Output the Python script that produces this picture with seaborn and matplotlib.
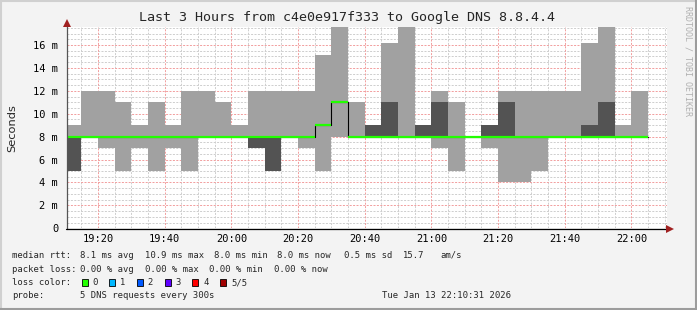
import numpy as np
import pandas as pd
import matplotlib
matplotlib.use("Agg")
import matplotlib.pyplot as plt
from matplotlib.lines import Line2D
from matplotlib.patches import Rectangle
import seaborn as sns

# ---------------- data (ms) ----------------
bin_start = pd.date_range("2026-01-13 19:10", "2026-01-13 22:00", freq="5min")
ping_min = [5, 8, 7, 5, 7, 5, 7, 5, 8, 8, 8, 7, 5, 8, 7, 5, 8, 8, 8, 8, 8, 8, 7, 5, 8, 7, 4, 4, 5, 8, 8, 8, 8, 8, 8]
ping_lo  = [5, 8, 8, 8, 8, 8, 8, 8, 8, 8, 8, 7, 5, 8, 8, 9, 11, 8, 8, 8, 8, 8, 8, 8, 8, 8, 8, 8, 8, 8, 8, 8, 8, 8, 8]
median   = [8, 8, 8, 8, 8, 8, 8, 8, 8, 8, 8, 8, 8, 8, 8, 9, 11, 8, 8, 8, 8, 8, 8, 8, 8, 8, 8, 8, 8, 8, 8, 8, 8, 8, 8]
ping_hi  = [8, 8, 8, 8, 8, 8, 8, 8, 8, 8, 8, 8, 8, 8, 8, 9, 11, 8, 9, 11, 8, 9, 11, 8, 8, 9, 11, 8, 8, 8, 8, 9, 11, 8, 8]
ping_max = [9, 12, 12, 11, 9, 11, 9, 12, 12, 11, 9, 12, 12, 12, 12, 15.1, 18, 11, 9, 16.2, 18, 9, 12, 11, 8, 9, 12, 12, 12, 12, 12, 16.2, 18, 9, 12]

x_tick_labels = ["19:20", "19:40", "20:00", "20:20", "20:40", "21:00", "21:20", "21:40", "22:00"]
y_tick_values = [0, 2, 4, 6, 8, 10, 12, 14, 16]
y_tick_labels = ["0", "2 m", "4 m", "6 m", "8 m", "10 m", "12 m", "14 m", "16 m"]

title = "Last 3 Hours from c4e0e917f333 to Google DNS 8.8.4.4"
loss_labels = ["0", "1", "2", "3", "4", "5/5"]
loss_colors = ["#22ff00", "#00b8ff", "#0059ff", "#5e00ff", "#ff0000", "#a00000"]

# ---------------- style ----------------
sns.set_style("white")
plt.rcParams["font.family"] = ["DejaVu Sans Mono", "DejaVu Sans"]

W, H = 697, 310
fig = plt.figure(figsize=(W / 100, H / 100), dpi=100)
fig.patch.set_facecolor("#f3f3f3")

def fx(x):
    return x / W

def fy(y):
    return 1 - y / H

ax_left, ax_right, ax_top, ax_bottom = 66.5, 666.5, 27.2, 228.3
ax = fig.add_axes([fx(ax_left), fy(ax_bottom), fx(ax_right - ax_left), (ax_bottom - ax_top) / H])
ax.set_facecolor("white")

t0 = pd.Timestamp("2026-01-13 19:00")
mins = ((bin_start - t0).total_seconds() / 60).to_numpy()
edges = np.append(mins, mins[-1] + 5)

def ext(a):
    a = np.asarray(a, dtype=float)
    return np.append(a, a[-1])

x_start = 10 + 31 / 60
x_end = x_start + 180
ax.set_xlim(x_start, x_end)
ax.set_ylim(0, 17.55)

# grid
minor_c = "#cfcfcf"
major_c = "#f2a0a0"
dash = (0, (2, 1.4))
for v in np.arange(0.5, 17.6, 0.5):
    if abs(v % 2) < 1e-9:
        continue
    ax.axhline(v, color=minor_c, lw=0.72, ls=dash, zorder=0)
for m in np.arange(15, 191, 5):
    if m % 20 == 0:
        continue
    ax.axvline(m, color=minor_c, lw=0.72, ls=dash, zorder=0)
for v in y_tick_values[1:]:
    ax.axhline(v, color=major_c, lw=0.72, ls=dash, zorder=0.5)
tick_mins = [20 + 20 * i for i in range(len(x_tick_labels))]
for m in tick_mins:
    ax.axvline(m, color=major_c, lw=0.72, ls=dash, zorder=0.5)

# smoke
ax.fill_between(edges, ext(ping_min), ext(ping_max), step="post", color="#a1a1a1", lw=0, zorder=2)
ax.fill_between(edges, ext(ping_lo), ext(ping_hi), step="post", color="#535353", lw=0, zorder=3)

# median line
df_med = pd.DataFrame({"t": edges, "median": ext(median)})
sns.lineplot(data=df_med, x="t", y="median", drawstyle="steps-post", color="black", lw=0.8, ax=ax, zorder=4)
ax.hlines(median, edges[:-1], edges[1:], color=loss_colors[0], lw=1.6, zorder=5)

ax.set_xlabel("")
ax.set_ylabel("")
ax.set_xticks(tick_mins)
ax.set_xticklabels(x_tick_labels)
ax.set_yticks(y_tick_values)
ax.set_yticklabels(y_tick_labels)
ax.tick_params(axis="x", length=0, pad=4, labelsize=7.5, colors="#000000")
ax.tick_params(axis="y", length=3, width=0.72, color="#f2a0a0", pad=3, labelsize=7.5, labelcolor="#000000")
for s in ax.spines.values():
    s.set_visible(False)

# axis lines + arrows (figure pixel coords)
fig.add_artist(Line2D([fx(66.5), fx(66.5)], [fy(228.5), fy(25)], color="#555555", lw=0.9))
fig.add_artist(Line2D([fx(66), fx(668)], [fy(228.5), fy(228.5)], color="#000000", lw=0.9))
fig.add_artist(Line2D([fx(66.7)], [fy(23)], marker="^", ms=5.5, color="#a02020", mew=0))
fig.add_artist(Line2D([fx(670)], [fy(228.5)], marker=">", ms=5.5, color="#a02020", mew=0))

# frame
fig.add_artist(Line2D([fx(0.5), fx(0.5)], [fy(0), fy(310)], color="#d0d0d0", lw=1.5))
fig.add_artist(Line2D([fx(0), fx(697)], [fy(0.5), fy(0.5)], color="#d0d0d0", lw=1.5))
fig.add_artist(Line2D([fx(696), fx(696)], [fy(0), fy(310)], color="#9c9c9c", lw=1.5))
fig.add_artist(Line2D([fx(0), fx(697)], [fy(309), fy(309)], color="#9c9c9c", lw=1.5))

# texts
fig.text(fx(347), fy(18), title, ha="center", va="center", fontsize=9.6)
fig.text(fx(12), fy(128), "Seconds", rotation=90, ha="center", va="center", fontsize=8.2,
         family=["DejaVu Sans"])
fig.text(fx(688), fy(6), "RRDTOOL / TOBI OETIKER", rotation=-90, ha="center", va="top",
         fontsize=6, color="#b0b0b0")

fs = 6.4
rows = [
    (255.5, [(12, "median rtt:"), (80.3, "8.1 ms avg"), (144.7, "10.9 ms max"), (214.3, "8.0 ms min"),
             (276.7, "8.0 ms now"), (344.3, "0.5 ms sd"), (402.7, "15.7"), (440, "am/s")]),
    (269, [(12, "packet loss:"), (80.3, "0.00 % avg"), (145, "0.00 % max"), (209.3, "0.00 % min"),
           (274, "0.00 % now")]),
    (282.5, [(12, "loss color:")]),
    (296, [(12, "probe:"), (80.3, "5 DNS requests every 300s")]),
]
for y, items in rows:
    for x, s in items:
        fig.text(fx(x), fy(y), s, ha="left", va="center", fontsize=fs)
fig.text(fx(510.5), fy(296), "Tue Jan 13 22:10:31 2026", ha="right", va="center", fontsize=fs)

box_x = [81.7, 109, 136.7, 164.7, 192.3, 220]
for bx, lab, col in zip(box_x, loss_labels, loss_colors):
    fig.add_artist(Rectangle((fx(bx), fy(285.5)), 6 / W, 7 / H, facecolor=col, edgecolor="black",
                             lw=0.6, transform=fig.transFigure))
    fig.text(fx(bx + 11), fy(282.5), lab, ha="left", va="center", fontsize=fs)

fig.savefig("out.png", dpi=100, facecolor=fig.get_facecolor())
